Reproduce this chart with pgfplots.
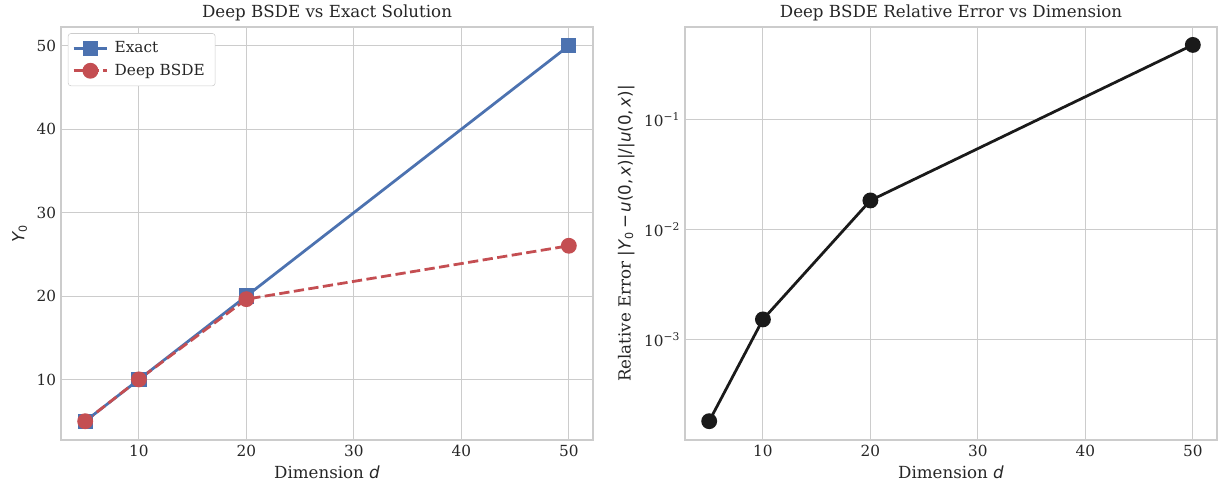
\documentclass[border=0pt]{standalone}
\usepackage{fontspec}
\setmainfont{DejaVu Serif}
\newfontfamily\mt{DejaVu Sans}
\usepackage{pgfplots}
\pgfplotsset{compat=1.18}
\definecolor{sbblue}{HTML}{4C72B0}
\definecolor{sbred}{HTML}{C44E52}
\definecolor{gridc}{HTML}{CCCCCC}
\definecolor{txt}{HTML}{262626}
\definecolor{kline}{HTML}{1A1A1A}
\pgfplotsset{common/.style={
  scale only axis, width=383.04pt, height=297.36pt,
  xmin=2.75, xmax=52.25, xtick={10,20,30,40,50},
  grid=major, major grid style={gridc, line width=0.8pt},
  axis line style={gridc, line width=1.1pt},
  tick style={draw=none}, major tick length=0pt, minor tick length=0pt,
  ticklabel style={font=\fontsize{11}{13}\selectfont, text=txt},
  label style={font=\fontsize{12}{14}\selectfont, text=txt},
  title style={font=\fontsize{12}{14}\selectfont, text=txt, yshift=-5pt},
  /pgf/number format/assume math mode=true,
  xlabel={Dimension {\mt\itshape d}},
}}
\begin{document}
\begin{tikzpicture}
\useasboundingbox (-43.92pt,-39.6pt) rectangle (838.08pt,316.8pt);
\begin{axis}[common,
  at={(0pt,0pt)}, anchor=south west,
  ymin=2.75, ymax=52.25, ytick={10,20,30,40,50},
  title={Deep BSDE vs Exact Solution},
  ylabel={{\mt\itshape Y}\textsubscript{\mt 0}},
  legend cell align=left,
  legend image code/.code={\draw[mark repeat=2,mark phase=2,#1] plot coordinates {(0pt,0pt) (12pt,0pt) (24pt,0pt)};},
  legend style={at={(0.013,0.985)}, anchor=north west, draw=gridc, rounded corners=2pt,
    fill=white, font=\fontsize{11}{13}\selectfont, text=txt, inner xsep=3pt, inner ysep=4pt, row sep=2.5pt,
    nodes={inner xsep=4.5pt}},
]
\addplot[sbblue, line width=2pt, mark=square*, mark size=4.5pt, mark options={solid, fill=sbblue}]
  coordinates {(5,5) (10,10) (20,20) (50,50)};
\addlegendentry{Exact}
\addplot[sbred, line width=2pt, dash pattern=on 7.4pt off 3.2pt, mark=*, mark size=4.7pt, mark options={solid, fill=sbred}]
  coordinates {(5,5.0009) (10,10.015) (20,19.63) (50,26.03)};
\addlegendentry{Deep BSDE}
\end{axis}
\begin{axis}[common,
  at={(449.28pt,0pt)}, anchor=south west,
  ymode=log, ymin=1.213e-4, ymax=0.698,
  ytick={1e-3,1e-2,1e-1}, yticklabels={10\textsuperscript{−3},10\textsuperscript{−2},10\textsuperscript{−1}},
  yminorticks=false,
  title={Deep BSDE Relative Error vs Dimension},
  ylabel={Relative Error {\mt |\textit{Y}\textsubscript{0}\,−\,\textit{u}(0,\,\textit{x})|/|\textit{u}(0,\,\textit{x})|}},
]
\addplot[kline, line width=2pt, mark=*, mark size=4.7pt, mark options={fill=kline}]
  coordinates {(5,1.8e-4) (10,1.52e-3) (20,0.0184) (50,0.4795)};
\end{axis}
\end{tikzpicture}
\end{document}
